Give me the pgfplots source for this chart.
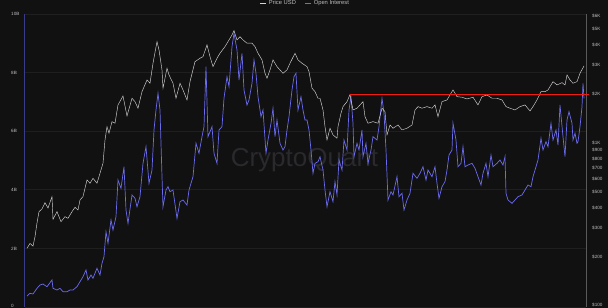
\documentclass[border=0pt]{standalone}
\usepackage{pgfplots}
\pgfplotsset{compat=1.18}
\usepackage{fontspec}
\setmainfont{Liberation Sans}
\definecolor{bg}{HTML}{111111}
\definecolor{gridc}{HTML}{1F1F1F}
\definecolor{oiblue}{HTML}{6B6BEE}
\definecolor{pricew}{HTML}{D4D4D4}
\definecolor{lbl}{HTML}{BDBDBD}
\definecolor{wm}{HTML}{29292E}
\definecolor{leftax}{HTML}{393C88}
\definecolor{rightax}{HTML}{5A5A5A}
\definecolor{redl}{HTML}{F21B0F}
\begin{document}
\begin{tikzpicture}[x=1pt,y=1pt]
\fill[bg] (0,0) rectangle (608,308);
\node[wm, anchor=base, font=\fontsize{26}{26}\selectfont, inner sep=0pt] at (304.5,141.3) {CryptoQuant};
\begin{axis}[
  at={(25pt,1pt)}, anchor=south west, scale only axis,
  width=561pt, height=293pt,
  xmin=25, xmax=586, ymin=0, ymax=10,
  axis x line=none, axis y line*=left,
  y axis line style={draw=leftax, line width=1pt},
  ytick={0,2,4,6,8,10}, yticklabels={\raisebox{2.5pt}{0},2B,4B,6B,8B,10B},
  major tick length=0pt,
  ymajorgrids, grid style={gridc, line width=0.6pt},
  yticklabel style={anchor=west, xshift=-14pt, inner sep=0pt, text=lbl, font=\fontsize{4.6}{5}\selectfont},
]
\addplot[oiblue, line width=0.7pt] coordinates {
(27,0.375)(30,0.468)(33,0.444)(37,0.638)(40,0.751)(43,0.785)(47,0.693)(52,0.922)(53,0.638)(57,0.580)(60,0.638)(63,0.522)(67,0.522)(70,0.580)(73,0.580)(77,0.693)(80,0.863)(83,1.034)(86,1.263)(88,0.922)(91,1.092)(93,0.980)(97,1.321)(100,1.092)(102,1.491)(104,1.717)(106,2.570)(108,2.174)(111,2.969)(113,2.628)(116,3.082)(118,4.334)(121,4.051)(124,4.788)(126,3.311)(128,2.857)(132,3.823)(135,3.710)(137,3.423)(140,3.765)(143,4.904)(146,5.471)(149,4.222)(152,4.676)(154,6.041)(156,6.724)(158,7.294)(160,6.724)(162,4.447)(163,3.423)(166,3.993)(168,4.106)(170,3.935)(173,3.993)(177,3.027)(180,3.594)(183,3.652)(187,3.481)(189,3.993)(193,4.447)(196,5.587)(199,5.246)(202,5.812)(204,6.154)(206,8.201)(208,5.812)(212,6.154)(214,5.246)(217,4.904)(219,6.041)(222,6.154)(224,7.123)(227,7.860)(229,7.519)(232,8.884)(234,9.341)(237,8.771)(239,7.747)(242,8.659)(244,7.406)(247,6.894)(249,7.065)(252,7.635)(254,8.430)(256,7.976)(258,7.177)(261,6.495)(263,6.724)(266,5.246)(268,5.700)(271,6.270)(273,6.782)(275,5.812)(277,6.382)(280,5.587)(283,5.358)(285,5.471)(287,6.041)(289,6.495)(292,7.406)(294,7.860)(296,7.976)(298,6.724)(301,7.177)(303,6.724)(305,6.382)(307,6.382)(309,6.041)(311,5.358)(313,4.563)(315,4.904)(318,4.959)(320,5.130)(323,4.676)(325,3.993)(327,3.423)(330,3.935)(333,3.594)(335,4.276)(337,3.823)(339,5.017)(342,4.676)(344,5.700)(347,5.358)(349,6.724)(351,7.177)(353,6.270)(354,5.130)(357,5.587)(359,5.358)(362,6.041)(363,5.130)(366,5.587)(368,4.904)(371,5.358)(373,5.812)(377,5.700)(379,6.154)(382,7.123)(384,6.611)(386,5.358)(388,3.652)(391,3.935)(393,3.823)(397,4.447)(399,3.765)(402,3.881)(404,3.311)(407,3.652)(410,3.881)(413,4.563)(417,4.392)(420,4.563)(423,4.788)(426,4.334)(428,4.676)(432,4.447)(435,4.788)(437,4.222)(439,3.710)(442,4.106)(445,4.276)(447,4.676)(449,5.188)(452,5.358)(453,6.270)(456,5.700)(458,4.788)(461,4.904)(463,5.471)(465,4.788)(468,4.846)(472,4.904)(475,4.734)(478,4.447)(481,4.164)(483,4.563)(486,4.904)(488,4.447)(491,5.188)(493,4.788)(497,4.904)(500,5.017)(503,4.846)(505,5.130)(506,3.881)(508,3.652)(512,3.539)(515,3.652)(518,3.765)(522,3.823)(525,3.993)(528,4.164)(531,4.106)(533,4.447)(536,4.788)(538,5.017)(541,5.758)(543,5.358)(546,5.642)(548,5.471)(551,6.270)(553,5.700)(556,6.041)(558,5.529)(560,6.894)(563,5.812)(565,5.130)(567,6.382)(569,6.666)(572,6.270)(573,5.700)(575,5.928)(577,5.587)(578,5.642)(580,6.154)(582,6.836)(583,7.635)(584,7.123)
};
\end{axis}
\begin{axis}[
  at={(25pt,1pt)}, anchor=south west, scale only axis,
  width=561pt, height=293pt,
  xmin=25, xmax=586, ymode=log, ymin=98.6, ymax=6180,
  axis x line=none, axis y line*=right,
  y axis line style={draw=rightax, line width=1pt},
  ytick={100,200,300,400,500,600,700,800,900,1000,2000,3000,4000,5000,6000},
  yticklabels={\raisebox{2.5pt}{\$100},\$200,\$300,\$400,\$500,\$600,\$700,\$800,\$900,\$1K,\$2K,\$3K,\$4K,\$5K,\$6K},
  major tick length=0pt, minor tick length=0pt,
  yticklabel style={anchor=west, xshift=6pt, inner sep=0pt, text=lbl, font=\fontsize{4.6}{5}\selectfont},
  clip=false,
  legend style={at={(0.5,1)}, anchor=center, yshift=11pt, draw=none, fill=none,
    legend columns=2, font=\fontsize{5.8}{6}\selectfont, text=lbl,
    /tikz/every even column/.append style={column sep=7pt}},
  legend image code/.code={\draw[#1, line width=0.8pt] (0pt,0pt) -- (6pt,0pt);},
]
\addplot[pricew, line width=0.45pt] coordinates {
(27,226)(30,242)(33,233)(35,266)(37,323)(39,379)(42,394)(45,430)(48,399)(52,469)(53,340)(57,379)(61,329)(65,353)(68,345)(72,379)(75,403)(78,388)(80,447)(83,469)(87,593)(90,566)(93,607)(97,566)(100,652)(103,751)(105,1043)(107,1259)(109,1147)(112,1351)(115,1321)(118,1711)(123,1943)(127,1464)(132,1880)(135,1792)(138,1633)(142,2064)(147,2435)(150,2324)(153,3083)(157,4183)(159,3721)(162,2804)(163,2166)(167,2872)(169,2614)(173,2324)(176,1880)(180,2324)(183,2114)(187,1836)(190,2377)(195,3153)(200,3308)(203,3384)(207,3993)(210,3384)(213,2939)(217,3308)(220,3550)(225,3898)(228,4183)(232,4598)(234,4887)(237,4284)(240,4488)(243,4284)(247,4090)(252,4090)(255,3898)(258,3550)(262,3230)(265,2677)(267,2494)(270,2804)(273,3230)(277,2939)(280,2804)(283,2677)(287,2804)(290,3083)(295,3550)(298,3230)(302,3083)(307,2939)(309,2738)(312,2166)(315,2064)(318,1880)(320,1880)(323,1594)(325,1259)(327,1043)(330,1231)(333,1120)(337,1069)(338,1259)(341,1521)(343,1670)(347,1792)(350,1979)(353,1594)(357,1633)(360,1711)(363,1792)(365,1450)(368,1321)(373,1351)(378,1321)(382,1633)(385,1556)(387,1120)(390,1289)(393,1231)(398,1289)(402,1202)(407,1231)(412,1289)(415,1594)(418,1670)(422,1633)(427,1670)(432,1633)(435,1711)(438,1450)(442,1792)(447,1836)(450,1970)(453,2114)(457,1923)(462,1907)(467,1862)(473,1907)(478,1711)(482,1923)(487,1970)(492,1880)(497,1880)(502,1836)(506,1670)(510,1633)(515,1594)(520,1670)(525,1711)(530,1572)(533,1670)(537,1836)(541,2064)(545,2064)(548,2114)(553,2377)(557,2269)(562,2344)(565,2269)(567,2614)(570,2435)(573,2324)(577,2377)(580,2677)(584,2968)
};
\addlegendentry{Price USD}
\addlegendimage{oiblue}
\addlegendentry{Open Interest}
\addplot[redl, line width=1.2pt, forget plot] coordinates {(350,1979)(589,1979)};
\end{axis}
\pgfresetboundingbox
\useasboundingbox (0,0) rectangle (608,308);
\end{tikzpicture}
\end{document}
